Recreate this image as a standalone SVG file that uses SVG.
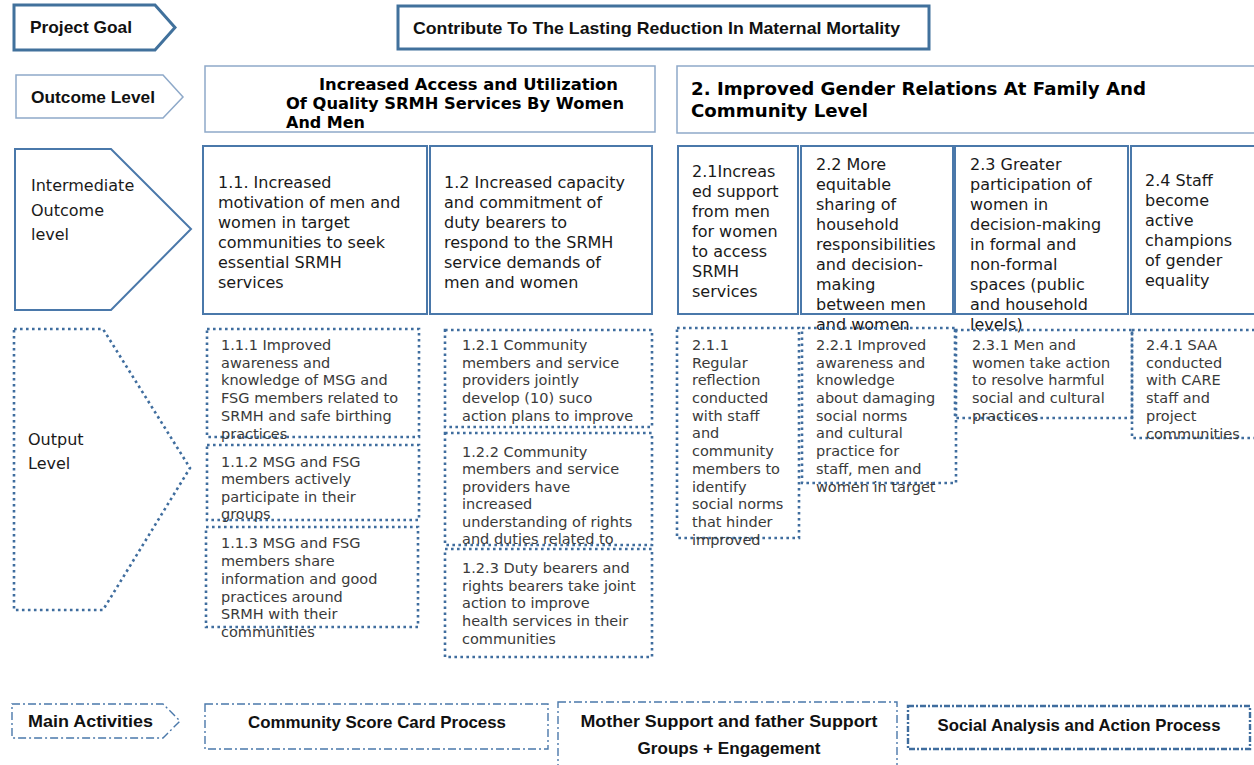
<svg xmlns="http://www.w3.org/2000/svg" width="1254" height="765" viewBox="0 0 1254 765">
<style>
.bg{fill:#ffffff}
.thick{fill:#fff;stroke:#41719C;stroke-width:3}
.light{fill:#fff;stroke:#8EA9C9;stroke-width:1.5}
.mid{fill:#fff;stroke:#4A78AA;stroke-width:2}
.dot{fill:none;stroke:#3F6D9E;stroke-width:2.6;stroke-dasharray:2.6 3.4}
.dd{fill:none;stroke:#4A78AA;stroke-width:1.4;stroke-dasharray:8 3 2 3}
.dd2{fill:none;stroke:#3F6D9E;stroke-width:2.4;stroke-dasharray:6 2 2 2}
.cal{font-family:"Liberation Sans",Arial,sans-serif;font-weight:bold;font-size:17px;fill:#111}
.vb{font-family:"DejaVu Sans",Verdana,sans-serif;font-weight:bold;fill:#000}
.io{font-family:"DejaVu Sans",Verdana,sans-serif;font-size:16px;fill:#1a1a1a}
.op{font-family:"DejaVu Sans",Verdana,sans-serif;font-size:14.5px;fill:#3a3a3a}
</style>
<rect class="bg" x="0" y="0" width="1254" height="765"/>

<g id="project-goal-label">
<polygon class="thick" points="14,5 155,5 175,27.5 155,50 14,50"/>
<text class="cal" x="30" y="33" textLength="102" lengthAdjust="spacingAndGlyphs">Project Goal</text>
</g>
<g id="project-goal">
<rect class="thick" x="398" y="6" width="531" height="43"/>
<text class="cal" x="413" y="34" textLength="487" lengthAdjust="spacingAndGlyphs">Contribute To The Lasting Reduction In Maternal Mortality</text>
</g>

<g id="outcome-level-label">
<polygon class="light" points="16,75 163,75 183,97 163,118 16,118"/>
<text class="cal" x="31" y="103" textLength="124" lengthAdjust="spacingAndGlyphs">Outcome Level</text>
</g>
<g id="outcome-1">
<rect class="light" x="205" y="66" width="450" height="66"/>
<text class="vb" font-size="16" x="319" y="90" textLength="299" lengthAdjust="spacingAndGlyphs">Increased Access and Utilization</text>
<text class="vb" font-size="16" x="286" y="109" textLength="338" lengthAdjust="spacingAndGlyphs">Of Quality SRMH Services By Women</text>
<text class="vb" font-size="16" x="286" y="128" textLength="79" lengthAdjust="spacingAndGlyphs">And Men</text>
</g>
<g id="outcome-2">
<rect class="light" x="677" y="66" width="590" height="67"/>
<text class="vb" font-size="18" x="691" y="95" textLength="455" lengthAdjust="spacingAndGlyphs">2. Improved Gender Relations At Family And</text>
<text class="vb" font-size="18" x="691" y="117" textLength="177" lengthAdjust="spacingAndGlyphs">Community Level</text>
</g>

<g id="intermediate-label">
<polygon class="mid" points="15,149 111,149 191,229 111,310 15,310"/>
<text class="io" x="31" y="191">Intermediate</text>
<text class="io" x="31" y="216">Outcome</text>
<text class="io" x="31" y="240">level</text>
</g>
<g id="io-1-1">
<rect class="mid" x="203" y="146" width="224" height="168"/>
<text class="io" x="218" y="188">1.1. Increased</text>
<text class="io" x="218" y="208">motivation of men and</text>
<text class="io" x="218" y="228">women in target</text>
<text class="io" x="218" y="248">communities to seek</text>
<text class="io" x="218" y="268">essential SRMH</text>
<text class="io" x="218" y="288">services</text>
</g>
<g id="io-1-2">
<rect class="mid" x="430" y="146" width="222" height="168"/>
<text class="io" x="444" y="188">1.2 Increased capacity</text>
<text class="io" x="444" y="208">and commitment of</text>
<text class="io" x="444" y="228">duty bearers to</text>
<text class="io" x="444" y="248">respond to the SRMH</text>
<text class="io" x="444" y="268">service demands of</text>
<text class="io" x="444" y="288">men and women</text>
</g>
<g id="io-2-1">
<rect class="mid" x="678" y="146" width="120" height="168"/>
<text class="io" x="692" y="177">2.1Increas</text>
<text class="io" x="692" y="197">ed support</text>
<text class="io" x="692" y="217">from men</text>
<text class="io" x="692" y="237">for women</text>
<text class="io" x="692" y="257">to access</text>
<text class="io" x="692" y="277">SRMH</text>
<text class="io" x="692" y="297">services</text>
</g>
<g id="io-2-2">
<rect class="mid" x="801" y="146" width="152" height="168"/>
<text class="io" x="816" y="170">2.2 More</text>
<text class="io" x="816" y="190">equitable</text>
<text class="io" x="816" y="210">sharing of</text>
<text class="io" x="816" y="230">household</text>
<text class="io" x="816" y="250">responsibilities</text>
<text class="io" x="816" y="270">and decision-</text>
<text class="io" x="816" y="290">making</text>
<text class="io" x="816" y="310">between men</text>
<text class="io" x="816" y="330">and women</text>
</g>
<g id="io-2-3">
<rect class="mid" x="955" y="146" width="173" height="168"/>
<text class="io" x="970" y="170">2.3 Greater</text>
<text class="io" x="970" y="190">participation of</text>
<text class="io" x="970" y="210">women in</text>
<text class="io" x="970" y="230">decision-making</text>
<text class="io" x="970" y="250">in formal and</text>
<text class="io" x="970" y="270">non-formal</text>
<text class="io" x="970" y="290">spaces (public</text>
<text class="io" x="970" y="310">and household</text>
<text class="io" x="970" y="330">levels)</text>
</g>
<g id="io-2-4">
<rect class="mid" x="1131" y="146" width="140" height="168"/>
<text class="io" x="1145" y="186">2.4 Staff</text>
<text class="io" x="1145" y="206">become</text>
<text class="io" x="1145" y="226">active</text>
<text class="io" x="1145" y="246">champions</text>
<text class="io" x="1145" y="266">of gender</text>
<text class="io" x="1145" y="286">equality</text>
</g>

<g id="output-label">
<polygon class="dot" points="14,329 103,329 190,468 103,610 14,610"/>
<text class="io" font-size="16.5" x="28" y="445">Output</text>
<text class="io" font-size="16.5" x="28" y="469">Level</text>
</g>
<g id="op-1-1-1">
<rect class="dot" x="207" y="329" width="212" height="108"/>
<text class="op" x="221" y="350">1.1.1 Improved</text>
<text class="op" x="221" y="368">awareness and</text>
<text class="op" x="221" y="385">knowledge of MSG and</text>
<text class="op" x="221" y="403">FSG members related to</text>
<text class="op" x="221" y="421">SRMH and safe birthing</text>
<text class="op" x="221" y="439">practices</text>
</g>
<g id="op-1-1-2">
<rect class="dot" x="207" y="445" width="212" height="75"/>
<text class="op" x="221" y="467">1.1.2 MSG and FSG</text>
<text class="op" x="221" y="484">members actively</text>
<text class="op" x="221" y="502">participate in their</text>
<text class="op" x="221" y="519">groups</text>
</g>
<g id="op-1-1-3">
<rect class="dot" x="206" y="527" width="212" height="100"/>
<text class="op" x="221" y="548">1.1.3 MSG and FSG</text>
<text class="op" x="221" y="566">members share</text>
<text class="op" x="221" y="584">information and good</text>
<text class="op" x="221" y="602">practices around</text>
<text class="op" x="221" y="619">SRMH with their</text>
<text class="op" x="221" y="637">communities</text>
</g>
<g id="op-1-2-1">
<rect class="dot" x="445" y="330" width="207" height="97"/>
<text class="op" x="462" y="350">1.2.1 Community</text>
<text class="op" x="462" y="368">members and service</text>
<text class="op" x="462" y="385">providers jointly</text>
<text class="op" x="462" y="403">develop (10) suco</text>
<text class="op" x="462" y="421">action plans to improve</text>
</g>
<g id="op-1-2-2">
<rect class="dot" x="445" y="433" width="207" height="112"/>
<text class="op" x="462" y="457">1.2.2 Community</text>
<text class="op" x="462" y="474">members and service</text>
<text class="op" x="462" y="492">providers have</text>
<text class="op" x="462" y="509">increased</text>
<text class="op" x="462" y="527">understanding of rights</text>
<text class="op" x="462" y="544">and duties related to</text>
</g>
<g id="op-1-2-3">
<rect class="dot" x="445" y="549" width="207" height="108"/>
<text class="op" x="462" y="573">1.2.3 Duty bearers and</text>
<text class="op" x="462" y="591">rights bearers take joint</text>
<text class="op" x="462" y="608">action to improve</text>
<text class="op" x="462" y="626">health services in their</text>
<text class="op" x="462" y="644">communities</text>
</g>
<g id="op-2-1-1">
<rect class="dot" x="677" y="328" width="122" height="210"/>
<text class="op" x="692" y="350">2.1.1</text>
<text class="op" x="692" y="368">Regular</text>
<text class="op" x="692" y="385">reflection</text>
<text class="op" x="692" y="403">conducted</text>
<text class="op" x="692" y="421">with staff</text>
<text class="op" x="692" y="438">and</text>
<text class="op" x="692" y="456">community</text>
<text class="op" x="692" y="474">members to</text>
<text class="op" x="692" y="492">identify</text>
<text class="op" x="692" y="509">social norms</text>
<text class="op" x="692" y="527">that hinder</text>
<text class="op" x="692" y="545">improved</text>
</g>
<g id="op-2-2-1">
<rect class="dot" x="802" y="328" width="154" height="155"/>
<text class="op" x="816" y="350">2.2.1 Improved</text>
<text class="op" x="816" y="368">awareness and</text>
<text class="op" x="816" y="385">knowledge</text>
<text class="op" x="816" y="403">about damaging</text>
<text class="op" x="816" y="421">social norms</text>
<text class="op" x="816" y="438">and cultural</text>
<text class="op" x="816" y="456">practice for</text>
<text class="op" x="816" y="474">staff, men and</text>
<text class="op" x="816" y="492">women in target</text>
</g>
<g id="op-2-3-1">
<rect class="dot" x="955" y="330" width="177" height="88"/>
<text class="op" x="972" y="350">2.3.1 Men and</text>
<text class="op" x="972" y="368">women take action</text>
<text class="op" x="972" y="385">to resolve harmful</text>
<text class="op" x="972" y="403">social and cultural</text>
<text class="op" x="972" y="421">practices</text>
</g>
<g id="op-2-4-1">
<rect class="dot" x="1132" y="330" width="140" height="108"/>
<text class="op" x="1146" y="350">2.4.1 SAA</text>
<text class="op" x="1146" y="368">conducted</text>
<text class="op" x="1146" y="385">with CARE</text>
<text class="op" x="1146" y="403">staff and</text>
<text class="op" x="1146" y="421">project</text>
<text class="op" x="1146" y="439">communities</text>
</g>

<g id="main-activities-label">
<polygon class="dd" points="12,704 163,704 180,721 163,738 12,738"/>
<text class="cal" x="28" y="727" textLength="125" lengthAdjust="spacingAndGlyphs">Main Activities</text>
</g>
<g id="activity-csc">
<rect class="dd" x="205" y="704" width="343" height="45"/>
<text class="cal" x="377" y="728" text-anchor="middle" textLength="258" lengthAdjust="spacingAndGlyphs">Community Score Card Process</text>
</g>
<g id="activity-support-groups">
<rect class="dd" x="558" y="702" width="339" height="80"/>
<text class="cal" x="729" y="727" text-anchor="middle" textLength="297" lengthAdjust="spacingAndGlyphs">Mother Support and father Support</text>
<text class="cal" x="729" y="754" text-anchor="middle" textLength="183" lengthAdjust="spacingAndGlyphs">Groups + Engagement</text>
</g>
<g id="activity-saa">
<rect class="dd2" x="908" y="706" width="342" height="43"/>
<text class="cal" x="1079" y="731" text-anchor="middle" textLength="283" lengthAdjust="spacingAndGlyphs">Social Analysis and Action Process</text>
</g>

<g id="connectors"></g>
</svg>
